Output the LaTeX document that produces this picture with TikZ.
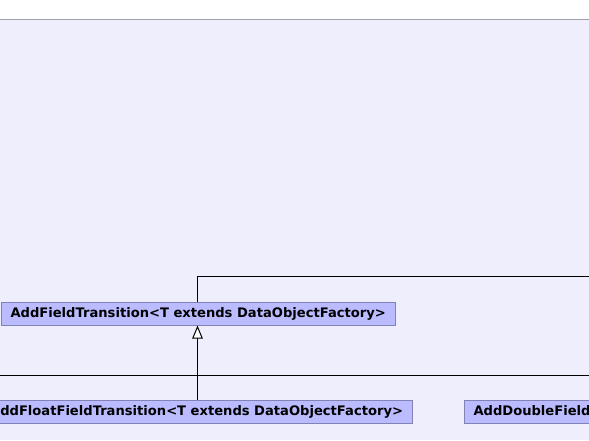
\documentclass[tikz,border=0pt]{standalone}
\usepackage{fontspec}
\setmainfont{DejaVu Sans}
\usetikzlibrary{arrows.meta}
\definecolor{fond}{RGB}{238,238,252}
\definecolor{boite}{RGB}{187,187,255}
\definecolor{bord}{RGB}{130,130,180}
\definecolor{filet}{RGB}{160,160,168}
\tikzset{
  classe/.style={draw=bord, fill=boite, font=\fontsize{13.1}{15}\selectfont\bfseries,
    minimum height=23pt, inner xsep=9.5pt, inner ysep=0pt, line width=1pt},
  lien/.style={draw=black, line width=1pt},
  herite/.style={lien, -{Triangle[open, fill=white, length=13pt, width=10.5pt]}}
}
\begin{document}
\begin{tikzpicture}[x=1pt, y=-1pt]
			\useasboundingbox (0,0) rectangle (589,440);
			\clip (0,0) rectangle (589,440);
			%Fond
			\fill[fond] (0,20) rectangle (589,440);
			\draw[filet, line width=1pt] (0,19.5) -- (589,19.5);
			%Classes
			\node[classe, anchor=west] (AFT) at (0.5,313.5) {AddFieldTransition<T extends DataObjectFactory>};
			\node[classe, anchor=east] (AFFT) at (413,411.5) {AddFloatFieldTransition<T extends DataObjectFactory>};
			\node[classe, anchor=west] (ADFT) at (463.5,411.5) {AddDoubleFieldTransition<T extends DataObjectFactory>};
			%Points libres
			\coordinate (H1) at (197.5,276);
			\coordinate (H2) at (589,276);
			\coordinate (G1) at (0,375.5);
			\coordinate (G2) at (589,375.5);
			%Liens
			\draw[lien] (AFT.north -| H1) -- (H1) -- (H2);
			\draw[lien] (G1) -- (G2);
			\draw[herite] (AFFT.north -| H1) -- (AFT.south -| H1);
		\end{tikzpicture}
\end{document}
